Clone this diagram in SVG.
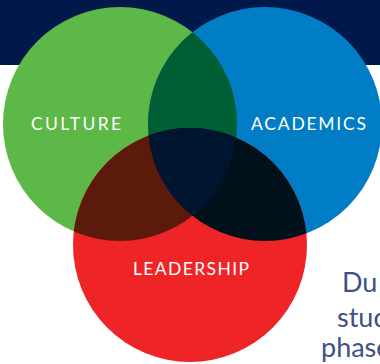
<svg xmlns="http://www.w3.org/2000/svg" width="380" height="364" viewBox="0 0 380 364">
  <style>
    .lbl { font-family: Lato, "Open Sans", "Liberation Sans", sans-serif; font-size: 17.5px; fill: #ffffff; }
    .body { font-family: Lato, "Open Sans", "Liberation Sans", sans-serif; font-size: 27px; fill: #3F5184; }
  </style>
  <defs>
    <clipPath id="clipG"><circle cx="120" cy="124" r="117"/></clipPath>
    <clipPath id="clipB"><circle cx="265" cy="124" r="117"/></clipPath>
    <clipPath id="clipR"><circle cx="190" cy="245" r="117"/></clipPath>
  </defs>
  <rect x="0" y="0" width="380" height="65" fill="#00194A"/>
  <g id="culture">
    <circle cx="120" cy="124" r="117" fill="#5DB847"/>
  </g>
  <g id="academics">
    <circle cx="265" cy="124" r="117" fill="#007DC5"/>
  </g>
  <g id="leadership">
    <circle cx="190" cy="245" r="117" fill="#EE2427"/>
  </g>
  <g id="overlaps">
    <circle cx="265" cy="124" r="117" fill="#005E35" clip-path="url(#clipG)"/>
    <circle cx="190" cy="245" r="117" fill="#5B1A0C" clip-path="url(#clipG)"/>
    <circle cx="190" cy="245" r="117" fill="#00111B" clip-path="url(#clipB)"/>
    <g clip-path="url(#clipG)">
      <circle cx="190" cy="245" r="117" fill="#001530" clip-path="url(#clipB)"/>
    </g>
  </g>
  <g id="labels">
    <text class="lbl" x="31" y="130" textLength="90" lengthAdjust="spacing">CULTURE</text>
    <text class="lbl" x="251" y="130" textLength="115" lengthAdjust="spacing">ACADEMICS</text>
    <text class="lbl" x="133" y="275" textLength="116" lengthAdjust="spacing">LEADERSHIP</text>
  </g>
  <g id="paragraph">
    <text class="body" x="342" y="292">Du</text>
    <text class="body" x="337" y="327">stud</text>
    <text class="body" x="321" y="357">phase</text>
  </g>
</svg>
